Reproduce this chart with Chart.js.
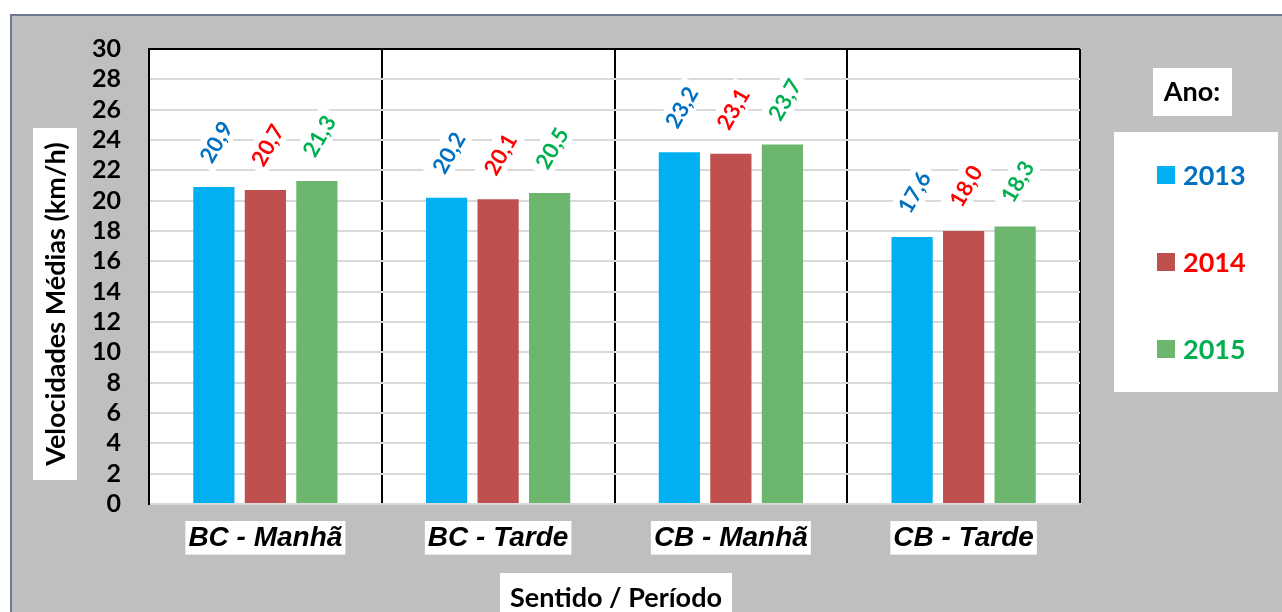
<!DOCTYPE html>
<html lang="pt">
<head>
<meta charset="utf-8">
<title>Velocidades Médias</title>
<script src="https://cdn.jsdelivr.net/npm/chart.js@4/dist/chart.umd.min.js"></script>
<style>
  html, body { margin: 0; padding: 0; background: #fff; overflow: hidden; }
  #frame {
    position: absolute; left: 10px; top: 14px; width: 1290px; height: 620px;
    background: #bfbfc1; border-left: 2px solid #6b7a8f; border-top: 2px solid #6b7a8f;
  }
  #speed-chart { position: absolute; left: 0; top: 0; }
</style>
</head>
<body>
<div id="frame"></div>
<canvas id="speed-chart" width="1282" height="612"></canvas>
<script>
// velocidades médias por sentido / período
const categories = ['BC - Manhã', 'BC - Tarde', 'CB - Manhã', 'CB - Tarde'];
const years = ['2013', '2014', '2015'];
const speeds2013 = [20.9, 20.2, 23.2, 17.6];
const speeds2014 = [20.7, 20.1, 23.1, 18.0];
const speeds2015 = [21.3, 20.5, 23.7, 18.3];
const yTicks = [0, 2, 4, 6, 8, 10, 12, 14, 16, 18, 20, 22, 24, 26, 28, 30];

const barColors = ['#00b0f0', '#c0504d', '#6db66d'];
const textColors = ['#0070c0', '#ff0000', '#00b050'];
const calibriLike = 'Lato, "Open Sans", sans-serif';

// fundo branco da área do gráfico, caixas dos títulos e da legenda
const panels = {
    id: 'panels',
    beforeDraw(chart) {
        const { ctx, chartArea: a } = chart;
        ctx.save();
        ctx.fillStyle = '#fff';
        ctx.fillRect(a.left, a.top, a.right - a.left, a.bottom - a.top);
        ctx.fillRect(33, 128, 44, 352);     // título eixo y
        ctx.fillRect(500, 573, 232, 45);    // título eixo x
        ctx.fillRect(1153, 68, 79, 48);     // "Ano:"
        ctx.fillRect(1114, 132, 164, 260);  // legenda
        ctx.restore();
    },
    afterDraw(chart) {
        const ctx = chart.ctx;
        ctx.save();
        ctx.fillStyle = '#000';
        ctx.textAlign = 'center';
        ctx.textBaseline = 'middle';

        ctx.font = 'bold 27px ' + calibriLike;
        ctx.save();
        ctx.translate(56, 304);
        ctx.rotate(-Math.PI / 2);
        ctx.fillText('Velocidades Médias (km/h)', 0, 0);
        ctx.restore();

        ctx.font = 'bold 27px ' + calibriLike;
        ctx.fillText('Sentido / Período', 616, 598);

        ctx.font = 'bold 27px ' + calibriLike;
        ctx.fillText('Ano:', 1192, 92);

        // itens da legenda
        ctx.textAlign = 'left';
        chart.data.datasets.forEach((ds, i) => {
            const cy = 175 + i * 87;
            ctx.fillStyle = ds.backgroundColor;
            ctx.fillRect(1157, cy - 9, 18, 18);
            ctx.fillStyle = textColors[i];
            ctx.fillText(ds.label, 1183, cy + 1);
        });
        ctx.restore();
    }
};

// rótulos de valor inclinados acima das barras
const valueLabels = {
    id: 'valueLabels',
    afterDatasetsDraw(chart) {
        const ctx = chart.ctx;
        const items = [];
        chart.data.datasets.forEach((ds, i) => {
            chart.getDatasetMeta(i).data.forEach((bar, j) => {
                items.push({
                    x: bar.x + 2,
                    y: bar.y - 45,
                    text: ds.data[j].toFixed(1).replace('.', ','),
                    color: textColors[i]
                });
            });
        });
        ctx.save();
        ctx.font = 'bold 22px ' + calibriLike;
        ctx.textAlign = 'center';
        ctx.textBaseline = 'middle';
        // primeiro as caixas brancas, depois o texto
        items.forEach(it => {
            const w = ctx.measureText(it.text).width;
            ctx.save();
            ctx.translate(it.x, it.y);
            ctx.rotate(-Math.PI / 3);
            ctx.fillStyle = '#fff';
            ctx.fillRect(-w / 2 - 6, -14, w + 12, 28);
            ctx.restore();
        });
        items.forEach(it => {
            ctx.save();
            ctx.translate(it.x, it.y);
            ctx.rotate(-Math.PI / 3);
            ctx.fillStyle = it.color;
            ctx.fillText(it.text, 0, 1);
            ctx.restore();
        });
        ctx.restore();
    }
};

const ctx = document.getElementById('speed-chart').getContext('2d');
new Chart(ctx, {
    type: 'bar',
    data: {
        labels: categories,
        datasets: [
            { label: years[0], data: speeds2013, backgroundColor: barColors[0] },
            { label: years[1], data: speeds2014, backgroundColor: barColors[1] },
            { label: years[2], data: speeds2015, backgroundColor: barColors[2] }
        ]
    },
    options: {
        responsive: false,
        animation: false,
        devicePixelRatio: 1,
        layout: { padding: { left: 0, top: 49, right: 202, bottom: 0 } },
        datasets: {
            bar: { categoryPercentage: 0.664, barPercentage: 0.8, borderWidth: 0 }
        },
        plugins: {
            legend: { display: false },
            tooltip: { enabled: false }
        },
        scales: {
            x: {
                afterFit: scale => { scale.height = 108; },
                grid: { offset: true, color: '#000', lineWidth: 2, drawTicks: false },
                border: { color: '#d9d9d9', width: 2 },
                ticks: {
                    color: '#000',
                    padding: 17,
                    font: { family: '"Liberation Sans", Arial, sans-serif', size: 28, weight: 'bold', style: 'italic' },
                    showLabelBackdrop: true,
                    backdropColor: '#fff',
                    backdropPadding: { left: 3, right: 3, top: 0, bottom: 0 }
                }
            },
            y: {
                min: 0,
                max: 30,
                afterFit: scale => { scale.width = 149; },
                afterBuildTicks: axis => { axis.ticks = yTicks.map(v => ({ value: v })); },
                grid: {
                    color: c => (c.tick && c.tick.value === 30 ? '#000' : '#d9d9d9'),
                    lineWidth: 2,
                    drawTicks: false
                },
                border: { color: '#000', width: 2 },
                ticks: {
                    color: '#000',
                    padding: 28,
                    autoSkip: false,
                    font: { family: calibriLike, size: 25, weight: 'bold' }
                }
            }
        }
    },
    plugins: [panels, valueLabels]
});
</script>
</body>
</html>
